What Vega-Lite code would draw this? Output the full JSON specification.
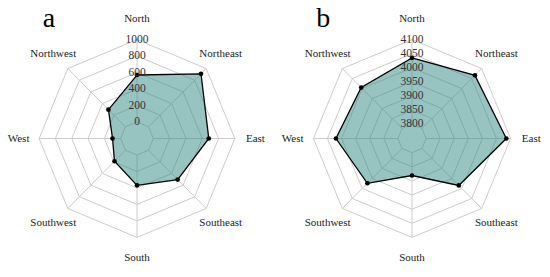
{
  "$schema": "https://vega.github.io/schema/vega-lite/v6.json",
  "padding": 0,
  "spacing": 0,
  "config": {"view": {"stroke": null}, "font": "Liberation Serif"},
  "datasets": {
    "dirs": [
      {"dir": "North", "idx": 0}, {"dir": "Northeast", "idx": 1}, {"dir": "East", "idx": 2}, {"dir": "Southeast", "idx": 3},
      {"dir": "South", "idx": 4}, {"dir": "Southwest", "idx": 5}, {"dir": "West", "idx": 6}, {"dir": "Northwest", "idx": 7}
    ],
    "a": [
      {"dir": "North", "idx": 0, "value": 570}, {"dir": "Northeast", "idx": 1, "value": 910}, {"dir": "East", "idx": 2, "value": 680}, {"dir": "Southeast", "idx": 3, "value": 505},
      {"dir": "South", "idx": 4, "value": 368}, {"dir": "Southwest", "idx": 5, "value": 190}, {"dir": "West", "idx": 6, "value": 100}, {"dir": "Northwest", "idx": 7, "value": 295}
    ],
    "b": [
      {"dir": "North", "idx": 0, "value": 4035}, {"dir": "Northeast", "idx": 1, "value": 4066}, {"dir": "East", "idx": 2, "value": 4085}, {"dir": "Southeast", "idx": 3, "value": 3985},
      {"dir": "South", "idx": 4, "value": 3881}, {"dir": "Southwest", "idx": 5, "value": 3974}, {"dir": "West", "idx": 6, "value": 4020}, {"dir": "Northwest", "idx": 7, "value": 4005}
    ],
    "ringsA": [
      {"level": 0, "idx": [0,1,2,3,4,5,6,7]}, {"level": 200, "idx": [0,1,2,3,4,5,6,7]}, {"level": 400, "idx": [0,1,2,3,4,5,6,7]},
      {"level": 600, "idx": [0,1,2,3,4,5,6,7]}, {"level": 800, "idx": [0,1,2,3,4,5,6,7]}, {"level": 1000, "idx": [0,1,2,3,4,5,6,7]}
    ],
    "ringsB": [
      {"level": 3800, "idx": [0,1,2,3,4,5,6,7]}, {"level": 3850, "idx": [0,1,2,3,4,5,6,7]}, {"level": 3900, "idx": [0,1,2,3,4,5,6,7]},
      {"level": 3950, "idx": [0,1,2,3,4,5,6,7]}, {"level": 4000, "idx": [0,1,2,3,4,5,6,7]}, {"level": 4050, "idx": [0,1,2,3,4,5,6,7]},
      {"level": 4100, "idx": [0,1,2,3,4,5,6,7]}
    ],
    "letters": [{"panel": "a"}, {"panel": "b"}]
  },
  "hconcat": [
    {
      "width": 274, "height": 277,
      "layer": [
        {
          "data": {"name": "ringsA"},
          "transform": [
            {"flatten": ["idx"]},
            {"calculate": "(datum.level + 200) / 1200", "as": "r"},
            {"calculate": "datum.r * sin(datum.idx * PI / 4)", "as": "x"},
            {"calculate": "datum.r * cos(datum.idx * PI / 4)", "as": "y"}
          ],
          "mark": {"type": "line", "interpolate": "linear-closed", "color": "#cccccc", "strokeWidth": 1},
          "encoding": {
            "x": {"field": "x", "type": "quantitative", "scale": {"domain": [-1.36, 1.38]}, "axis": null},
            "y": {"field": "y", "type": "quantitative", "scale": {"domain": [-1.37, 1.40]}, "axis": null},
            "detail": {"field": "level"},
            "order": {"field": "idx"}
          }
        },
        {
          "data": {"name": "dirs"},
          "transform": [
            {"calculate": "0.16667 * sin(datum.idx * PI / 4)", "as": "x"},
            {"calculate": "0.16667 * cos(datum.idx * PI / 4)", "as": "y"},
            {"calculate": "sin(datum.idx * PI / 4)", "as": "x2"},
            {"calculate": "cos(datum.idx * PI / 4)", "as": "y2"}
          ],
          "mark": {"type": "rule", "color": "#cccccc", "strokeWidth": 1},
          "encoding": {
            "x": {"field": "x", "type": "quantitative"},
            "y": {"field": "y", "type": "quantitative"},
            "x2": {"field": "x2"},
            "y2": {"field": "y2"}
          }
        },
        {
          "data": {"name": "a"},
          "transform": [
            {"calculate": "(datum.value + 200) / 1200", "as": "r"},
            {"calculate": "datum.r * sin(datum.idx * PI / 4)", "as": "x"},
            {"calculate": "datum.r * cos(datum.idx * PI / 4)", "as": "y"}
          ],
          "layer": [
            {
              "mark": {"type": "line", "interpolate": "linear-closed", "fill": "#2f8a83", "fillOpacity": 0.5, "stroke": "#000000", "strokeWidth": 1.3},
              "encoding": {
                "x": {"field": "x", "type": "quantitative"},
                "y": {"field": "y", "type": "quantitative"},
                "order": {"field": "idx"}
              }
            },
            {
              "mark": {"type": "circle", "color": "#000000", "opacity": 1, "size": 22},
              "encoding": {
                "x": {"field": "x", "type": "quantitative"},
                "y": {"field": "y", "type": "quantitative"}
              }
            }
          ]
        },
        {
          "data": {"name": "ringsA"},
          "transform": [
            {"calculate": "(datum.level + 200) / 1200", "as": "r"},
            {"calculate": "0", "as": "x"}
          ],
          "mark": {"type": "text", "fontSize": 11.5, "color": "#333333", "baseline": "middle", "align": "center"},
          "encoding": {
            "x": {"field": "x", "type": "quantitative"},
            "y": {"field": "r", "type": "quantitative"},
            "text": {"field": "level"}
          }
        },
        {
          "data": {"name": "dirs"},
          "transform": [
            {"calculate": "1.21 * sin(datum.idx * PI / 4)", "as": "x"},
            {"calculate": "1.21 * cos(datum.idx * PI / 4)", "as": "y"}
          ],
          "mark": {"type": "text", "fontSize": 11, "color": "#222222", "baseline": "middle", "align": "center"},
          "encoding": {
            "x": {"field": "x", "type": "quantitative"},
            "y": {"field": "y", "type": "quantitative"},
            "text": {"field": "dir"}
          }
        },
        {
          "data": {"name": "letters"},
          "transform": [{"filter": "datum.panel == 'a'"}],
          "mark": {"type": "text", "fontSize": 28, "color": "#000000", "baseline": "alphabetic", "align": "center"},
          "encoding": {
            "x": {"datum": -0.9},
            "y": {"datum": 1.13},
            "text": {"field": "panel"}
          }
        }
      ]
    },
    {
      "width": 276, "height": 277,
      "layer": [
        {
          "data": {"name": "ringsB"},
          "transform": [
            {"flatten": ["idx"]},
            {"calculate": "(datum.level - 3750) / 350", "as": "r"},
            {"calculate": "datum.r * sin(datum.idx * PI / 4)", "as": "x"},
            {"calculate": "datum.r * cos(datum.idx * PI / 4)", "as": "y"}
          ],
          "mark": {"type": "line", "interpolate": "linear-closed", "color": "#cccccc", "strokeWidth": 1},
          "encoding": {
            "x": {"field": "x", "type": "quantitative", "scale": {"domain": [-1.36, 1.40]}, "axis": null},
            "y": {"field": "y", "type": "quantitative", "scale": {"domain": [-1.37, 1.40]}, "axis": null},
            "detail": {"field": "level"},
            "order": {"field": "idx"}
          }
        },
        {
          "data": {"name": "dirs"},
          "transform": [
            {"calculate": "0.142857 * sin(datum.idx * PI / 4)", "as": "x"},
            {"calculate": "0.142857 * cos(datum.idx * PI / 4)", "as": "y"},
            {"calculate": "sin(datum.idx * PI / 4)", "as": "x2"},
            {"calculate": "cos(datum.idx * PI / 4)", "as": "y2"}
          ],
          "mark": {"type": "rule", "color": "#cccccc", "strokeWidth": 1},
          "encoding": {
            "x": {"field": "x", "type": "quantitative"},
            "y": {"field": "y", "type": "quantitative"},
            "x2": {"field": "x2"},
            "y2": {"field": "y2"}
          }
        },
        {
          "data": {"name": "b"},
          "transform": [
            {"calculate": "(datum.value - 3750) / 350", "as": "r"},
            {"calculate": "datum.r * sin(datum.idx * PI / 4)", "as": "x"},
            {"calculate": "datum.r * cos(datum.idx * PI / 4)", "as": "y"}
          ],
          "layer": [
            {
              "mark": {"type": "line", "interpolate": "linear-closed", "fill": "#2f8a83", "fillOpacity": 0.5, "stroke": "#000000", "strokeWidth": 1.3},
              "encoding": {
                "x": {"field": "x", "type": "quantitative"},
                "y": {"field": "y", "type": "quantitative"},
                "order": {"field": "idx"}
              }
            },
            {
              "mark": {"type": "circle", "color": "#000000", "opacity": 1, "size": 22},
              "encoding": {
                "x": {"field": "x", "type": "quantitative"},
                "y": {"field": "y", "type": "quantitative"}
              }
            }
          ]
        },
        {
          "data": {"name": "ringsB"},
          "transform": [
            {"calculate": "(datum.level - 3750) / 350", "as": "r"},
            {"calculate": "0", "as": "x"}
          ],
          "mark": {"type": "text", "fontSize": 11.5, "color": "#333333", "baseline": "middle", "align": "center"},
          "encoding": {
            "x": {"field": "x", "type": "quantitative"},
            "y": {"field": "r", "type": "quantitative"},
            "text": {"field": "level"}
          }
        },
        {
          "data": {"name": "dirs"},
          "transform": [
            {"calculate": "1.21 * sin(datum.idx * PI / 4)", "as": "x"},
            {"calculate": "1.21 * cos(datum.idx * PI / 4)", "as": "y"}
          ],
          "mark": {"type": "text", "fontSize": 11, "color": "#222222", "baseline": "middle", "align": "center"},
          "encoding": {
            "x": {"field": "x", "type": "quantitative"},
            "y": {"field": "y", "type": "quantitative"},
            "text": {"field": "dir"}
          }
        },
        {
          "data": {"name": "letters"},
          "transform": [{"filter": "datum.panel == 'b'"}],
          "mark": {"type": "text", "fontSize": 28, "color": "#000000", "baseline": "alphabetic", "align": "center"},
          "encoding": {
            "x": {"datum": -0.9},
            "y": {"datum": 1.13},
            "text": {"field": "panel"}
          }
        }
      ]
    }
  ]
}
